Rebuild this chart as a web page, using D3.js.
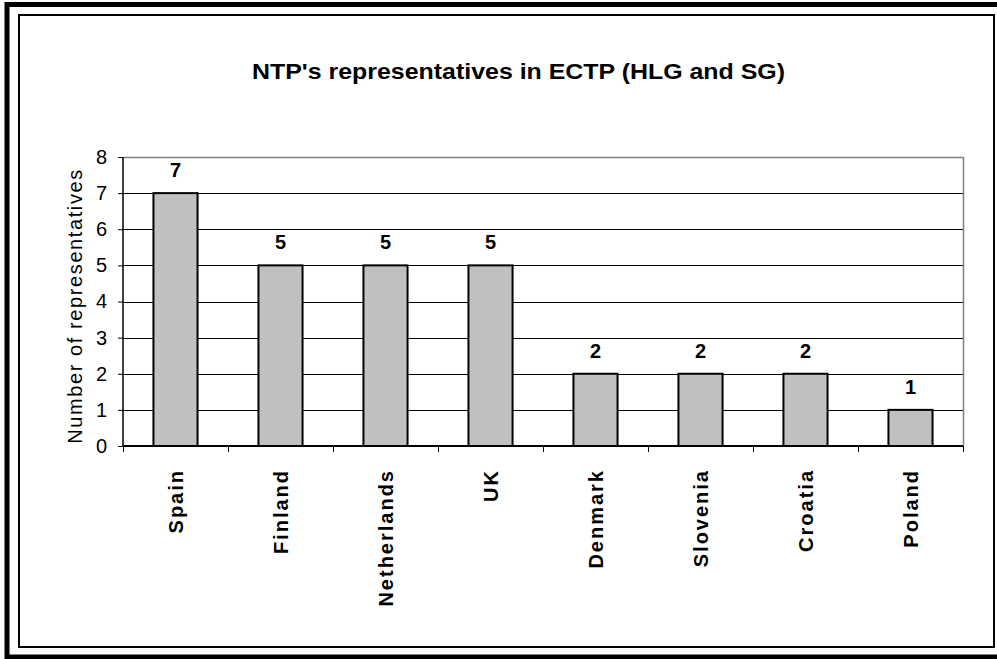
<!DOCTYPE html>
<html>
<head>
<meta charset="utf-8">
<script src="https://cdn.jsdelivr.net/npm/d3@7"></script>
<style>
  body { margin: 0; background: #fff; }
  svg { display: block; font-family: Arial, "Liberation Sans", sans-serif; }
</style>
</head>
<body>
<div class="visuals"></div>
<script>
var countries = ['Spain', 'Finland', 'Netherlands', 'UK', 'Denmark', 'Slovenia', 'Croatia', 'Poland'];
var representatives = [7, 5, 5, 5, 2, 2, 2, 1];
var yTicks = [0, 1, 2, 3, 4, 5, 6, 7, 8];
var titleText = "NTP's representatives in ECTP (HLG and SG)";
var yTitle = 'Number of representatives';

var RepChart = (function(){

  return function(selector){
    var width = 997, height = 659;
    var plot = { left: 123, top: 157, right: 963, bottom: 446 };

    var svg = d3.select(selector).append('svg')
      .attr('width', width)
      .attr('height', height);

    var data = countries.map(function(c, i){ return { name: c, value: representatives[i] }; });

    var x = d3.scaleBand()
      .domain(countries)
      .range([plot.left, plot.right])
      .paddingInner(0.58)
      .paddingOuter(0.29);

    var band = d3.scaleBand().domain(countries).range([plot.left, plot.right]);

    var y = d3.scaleLinear()
      .domain([0, 8])
      .range([plot.bottom, plot.top]);

    // frames
    svg.append('rect')
      .attr('x', 7).attr('y', 4.5)
      .attr('width', 1000).attr('height', 652.5)
      .style('fill', 'none')
      .style('stroke', 'black')
      .style('stroke-width', '5px');

    svg.append('rect')
      .attr('x', 19).attr('y', 15)
      .attr('width', 975).attr('height', 632)
      .style('fill', 'white')
      .style('stroke', 'black')
      .style('stroke-width', '2px');

    // title
    svg.append('text')
      .text(titleText)
      .attr('x', 252)
      .attr('y', 79)
      .attr('textLength', 533)
      .attr('lengthAdjust', 'spacingAndGlyphs')
      .style('font-weight', 'bold')
      .style('font-size', '22px');

    // gridlines
    svg.append('g')
      .selectAll('line')
      .data(yTicks.filter(function(t){ return t > 0 && t < 8; }))
      .enter().append('line')
      .attr('x1', plot.left).attr('x2', plot.right)
      .attr('y1', function(d){ return Math.round(y(d)) + 0.5; })
      .attr('y2', function(d){ return Math.round(y(d)) + 0.5; })
      .style('stroke', 'black')
      .style('stroke-width', '1px');

    // plot border top/right (gray)
    svg.append('path')
      .attr('d', 'M' + plot.left + ',' + (plot.top + 0.5) + 'H' + (plot.right + 0.5) + 'V' + plot.bottom)
      .style('fill', 'none')
      .style('stroke', '#808080')
      .style('stroke-width', '1.5px');

    // bars
    svg.append('g')
      .selectAll('rect')
      .data(data)
      .enter().append('rect')
      .attr('x', function(d){ return x(d.name); })
      .attr('y', function(d){ return y(d.value); })
      .attr('width', x.bandwidth())
      .attr('height', function(d){ return y(0) - y(d.value); })
      .style('fill', '#C0C0C0')
      .style('stroke', 'black')
      .style('stroke-width', '2px');

    // value labels
    svg.append('g')
      .selectAll('text')
      .data(data)
      .enter().append('text')
      .text(function(d){ return d.value; })
      .attr('x', function(d){ return x(d.name) + x.bandwidth() / 2; })
      .attr('y', function(d){ return y(d.value) - 16; })
      .attr('text-anchor', 'middle')
      .style('font-weight', 'bold')
      .style('font-size', '20px');

    // y axis
    var yAxis = svg.append('g')
      .attr('transform', 'translate(' + plot.left + ',0)')
      .call(d3.axisLeft(y).tickValues(yTicks).tickSize(5).tickPadding(11).tickFormat(d3.format('d')));
    yAxis.select('.domain').attr('d', 'M0,' + plot.top + 'V' + plot.bottom).style('stroke-width', '1.5px');
    yAxis.selectAll('text')
      .style('font-size', '20px')
      .style('font-family', 'Arial, "Liberation Sans", sans-serif')
      .attr('fill', 'black');

    // x axis: ticks at category boundaries
    var xAxis = svg.append('g')
      .attr('transform', 'translate(0,' + plot.bottom + ')');
    xAxis.append('line')
      .attr('x1', plot.left).attr('x2', plot.right)
      .style('stroke', 'black')
      .style('stroke-width', '2px');
    xAxis.selectAll('line.tick')
      .data(countries.concat(['end']))
      .enter().append('line')
      .attr('class', 'tick')
      .attr('x1', function(d, i){ return Math.round(plot.left + i * band.bandwidth()) + 0.5; })
      .attr('x2', function(d, i){ return Math.round(plot.left + i * band.bandwidth()) + 0.5; })
      .attr('y1', 0).attr('y2', 6)
      .style('stroke', 'black')
      .style('stroke-width', '1px');

    xAxis.selectAll('text')
      .data(countries)
      .enter().append('text')
      .text(function(d){ return d; })
      .attr('transform', function(d){
        return 'translate(' + (band(d) + band.bandwidth() / 2) + ',23) rotate(-90)';
      })
      .attr('text-anchor', 'end')
      .attr('dy', '0.35em')
      .style('font-weight', 'bold')
      .style('font-size', '20px')
      .style('letter-spacing', '2px');

    // y title
    svg.append('text')
      .text(yTitle)
      .attr('transform', 'translate(75,' + 306 + ') rotate(-90)')
      .attr('text-anchor', 'middle')
      .attr('dy', '0.35em')
      .style('font-size', '20px')
      .style('letter-spacing', '1.6px');
  };

}());

document.addEventListener('DOMContentLoaded', function () {
  var chart = new RepChart('.visuals');
});
</script>
</body>
</html>
